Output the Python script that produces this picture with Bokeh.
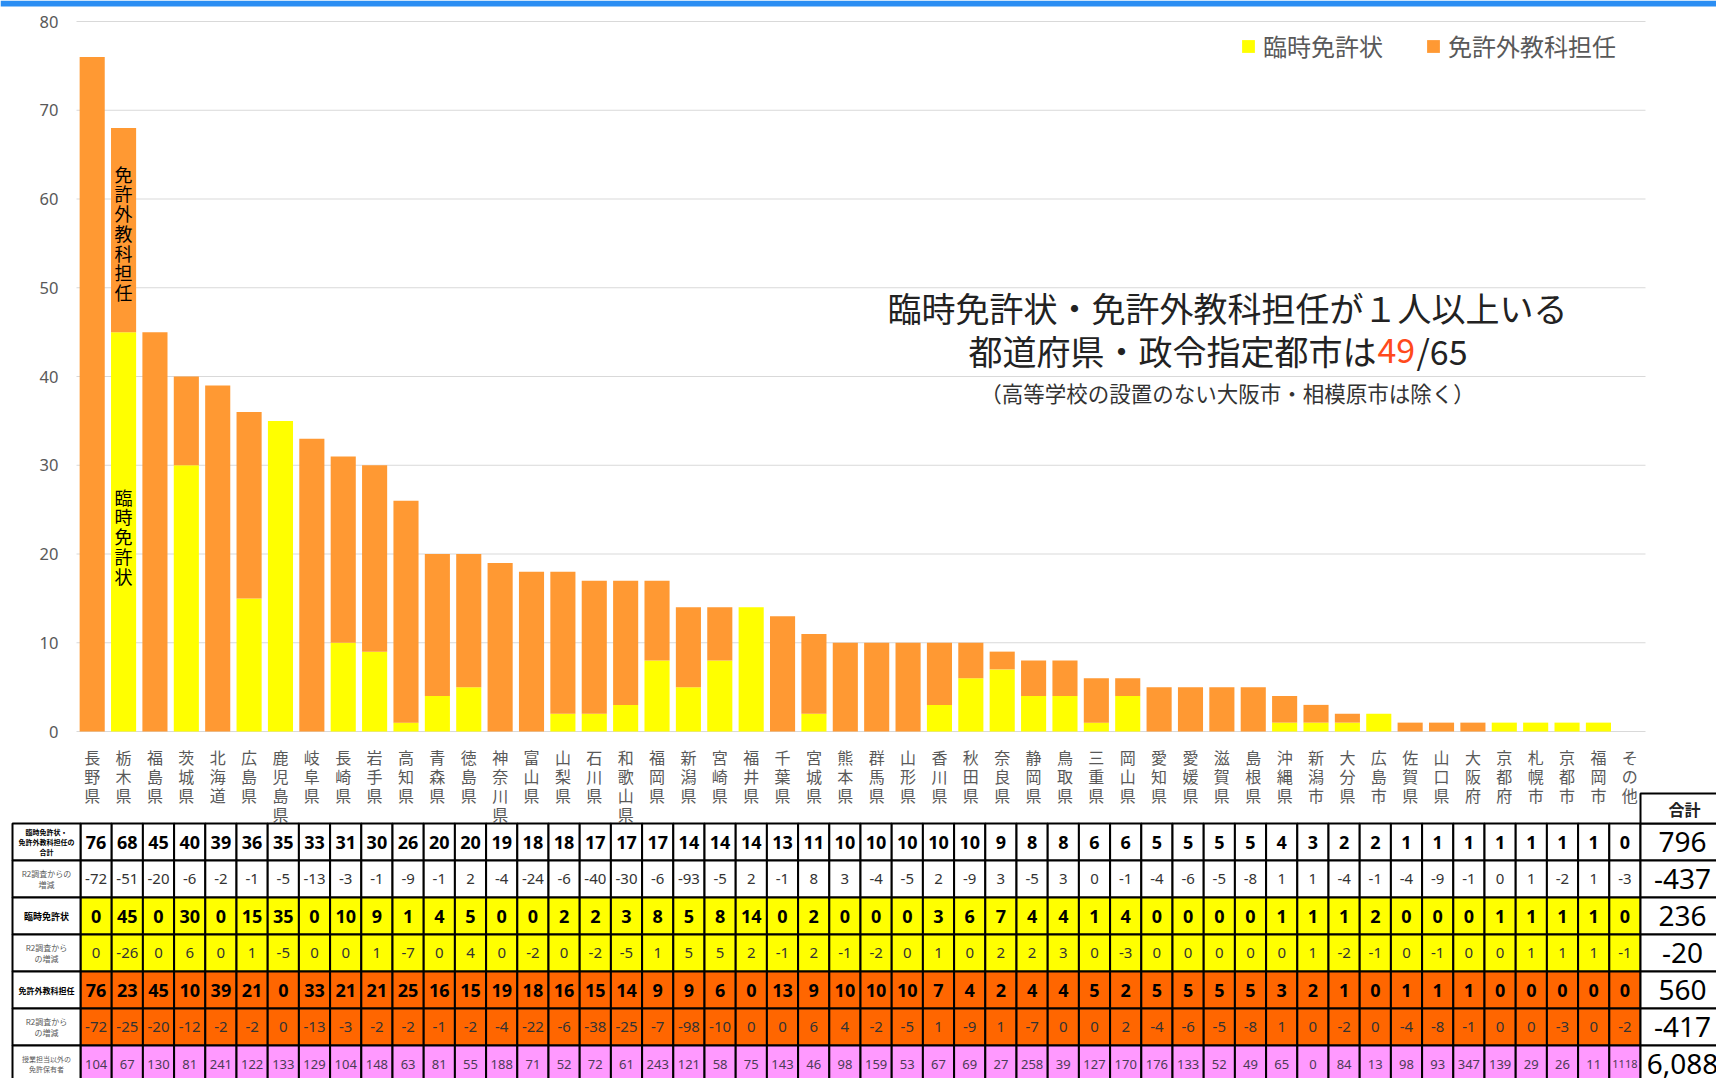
from bokeh.plotting import figure
from bokeh.models import (Range1d, Legend, LegendItem, Label, ColumnDataSource, BoxAnnotation)
from bokeh.embed import file_html
from bokeh.resources import INLINE
from bokeh.core.properties import value

# ---------------- data ----------------
categories = ["長野県", "栃木県", "福島県", "茨城県", "北海道", "広島県", "鹿児島県", "岐阜県",
              "長崎県", "岩手県", "高知県", "青森県", "徳島県", "神奈川県", "富山県", "山梨県",
              "石川県", "和歌山県", "福岡県", "新潟県", "宮崎県", "福井県", "千葉県", "宮城県",
              "熊本県", "群馬県", "山形県", "香川県", "秋田県", "奈良県", "静岡県", "鳥取県",
              "三重県", "岡山県", "愛知県", "愛媛県", "滋賀県", "島根県", "沖縄県", "新潟市",
              "大分県", "広島市", "佐賀県", "山口県", "大阪府", "京都府", "札幌市", "京都市",
              "福岡市", "その他"]
total = [76, 68, 45, 40, 39, 36, 35, 33, 31, 30, 26, 20, 20, 19, 18, 18, 17, 17, 17, 14,
         14, 14, 13, 11, 10, 10, 10, 10, 10, 9, 8, 8, 6, 6, 5, 5, 5, 5, 4, 3,
         2, 2, 1, 1, 1, 1, 1, 1, 1, 0]
total_diff = [-72, -51, -20, -6, -2, -1, -5, -13, -3, -1, -9, -1, 2, -4, -24, -6, -40, -30, -6, -93,
              -5, 2, -1, 8, 3, -4, -5, 2, -9, 3, -5, 3, 0, -1, -4, -6, -5, -8, 1, 1,
              -4, -1, -4, -9, -1, 0, 1, -2, 1, -3]
rinji = [0, 45, 0, 30, 0, 15, 35, 0, 10, 9, 1, 4, 5, 0, 0, 2, 2, 3, 8, 5,
         8, 14, 0, 2, 0, 0, 0, 3, 6, 7, 4, 4, 1, 4, 0, 0, 0, 0, 1, 1,
         1, 2, 0, 0, 0, 1, 1, 1, 1, 0]
rinji_diff = [0, -26, 0, 6, 0, 1, -5, 0, 0, 1, -7, 0, 4, 0, -2, 0, -2, -5, 1, 5,
              5, 2, -1, 2, -1, -2, 0, 1, 0, 2, 2, 3, 0, -3, 0, 0, 0, 0, 0, 1,
              -2, -1, 0, -1, 0, 0, 1, 1, 1, -1]
menkyogai = [76, 23, 45, 10, 39, 21, 0, 33, 21, 21, 25, 16, 15, 19, 18, 16, 15, 14, 9, 9,
             6, 0, 13, 9, 10, 10, 10, 7, 4, 2, 4, 4, 5, 2, 5, 5, 5, 5, 3, 2,
             1, 0, 1, 1, 1, 0, 0, 0, 0, 0]
menkyogai_diff = [-72, -25, -20, -12, -2, -2, 0, -13, -3, -2, -2, -1, -2, -4, -22, -6, -38, -25, -7, -98,
                  -10, 0, 0, 6, 4, -2, -5, 1, -9, 1, -7, 0, 0, 2, -4, -6, -5, -8, 1, 0,
                  -2, 0, -4, -8, -1, 0, 0, -3, 0, -2]
other_holders = [104, 67, 130, 81, 241, 122, 133, 129, 104, 148, 63, 81, 55, 188, 71, 52, 72, 61, 243, 121,
                 58, 75, 143, 46, 98, 159, 53, 67, 69, 27, 258, 39, 127, 170, 176, 133, 52, 49, 65, 0,
                 84, 13, 98, 93, 347, 139, 29, 26, 11, 1118]
sum_values = ["796", "-437", "236", "-20", "560", "-417", "6,088"]
row_labels = ["臨時免許状・\n免許外教科担任の\n合計", "R2調査からの\n増減", "臨時免許状",
              "R2調査から\nの増減", "免許外教科担任", "R2調査から\nの増減", "授業担当以外の\n免許保有者"]
series_names = ["臨時免許状", "免許外教科担任"]
y_ticks = [0, 10, 20, 30, 40, 50, 60, 70, 80]
sum_header = "合計"
title_line1 = "臨時免許状・免許外教科担任が１人以上いる"
title_line2a = "都道府県・政令指定都市は"
title_line2b = "49"
title_line2c = "/65"
title_line3 = "（高等学校の設置のない大阪市・相模原市は除く）"

# ---------------- styles / layout helpers ----------------
JP = "Noto Sans CJK JP"
NUM = "Noto Sans"
YELLOW = "#FFFF00"
ORANGE_BAR = "#FF9933"
ORANGE_ROW = "#FF6600"
PINK = "#FF99FF"
GRAY = "#595959"

W, H = 1716, 1078
LEFT, TOP = 0, 0                 # page offset of the canvas
RIGHT, BOTTOM = LEFT + W, TOP + H
n = len(categories)
BAR_L, BAR_R = 76, 1645          # chart category band (page px)
BAR_STEP = (BAR_R - BAR_L) / n
Y0_PX, Y80_PX = 731, 21          # value axis (page px)
VAL_STEP = (Y0_PX - Y80_PX) / 80
COL_L, COL_STEP = 80, 31.2       # table columns (page px)
ROW_T, ROW_STEP = 823, 37        # table rows (page px)


def tx(px): return (px - COL_L) / COL_STEP
def ty(py): return (py - ROW_T) / ROW_STEP
def bx(px): return (px - BAR_L) / BAR_STEP
def vy(py): return (Y0_PX - py) / VAL_STEP


p = figure(width=W, height=H,
           x_range=Range1d(tx(LEFT), tx(RIGHT)), y_range=Range1d(ty(BOTTOM), ty(TOP)),
           x_axis_location=None, y_axis_location=None,
           output_backend="svg", toolbar_location=None,
           min_border_left=0, min_border_right=0, min_border_top=0, min_border_bottom=0,
           outline_line_color=None)
p.grid.visible = False
p.extra_x_ranges = {"bars": Range1d(bx(LEFT), bx(RIGHT))}
p.extra_y_ranges = {"vals": Range1d(vy(BOTTOM), vy(TOP))}

# top blue band
p.add_layout(BoxAnnotation(bottom=vy(TOP + 6), y_range_name="vals", fill_color="#2B8EF3",
                           fill_alpha=1, line_color=None))

# ---------------- bar chart ----------------
grid_src = ColumnDataSource(dict(x0=[0] * len(y_ticks), x1=[n] * len(y_ticks), y=y_ticks,
                                 xl=[bx(58)] * len(y_ticks), t=[str(v) for v in y_ticks]))
p.segment(x0="x0", x1="x1", y0="y", y1="y", source=grid_src, line_color="#D9D9D9", line_width=1,
          x_range_name="bars", y_range_name="vals")
p.text(x="xl", y="y", text="t", source=grid_src, text_align="right", text_baseline="middle",
       text_font=value(NUM), text_font_size="16.5px", text_color=GRAY,
       x_range_name="bars", y_range_name="vals")

idx = [i + 0.5 for i in range(n)]
src = ColumnDataSource(dict(x=idx, rinji=rinji, menkyogai=menkyogai))
rs = p.vbar_stack(["rinji", "menkyogai"], x="x", width=0.8, source=src,
                  fill_color=[YELLOW, ORANGE_BAR], line_color=[None, None],
                  x_range_name="bars", y_range_name="vals")

legend = Legend(items=[LegendItem(label=series_names[0], renderers=[rs[0]]),
                       LegendItem(label=series_names[1], renderers=[rs[1]])],
                orientation="horizontal", location=(1240 - LEFT, BOTTOM - 63),
                glyph_width=16, glyph_height=16, label_standoff=7, spacing=42,
                padding=0, margin=0, border_line_color=None, background_fill_alpha=0,
                label_text_font=JP, label_text_font_size="24px", label_text_color=GRAY,
                label_height=24)
p.add_layout(legend, "center")

# vertical notes in the 栃木県 bar
note_src = ColumnDataSource(dict(x=[idx[1], idx[1]], y=[vy(160), vy(483)],
                                 text=["\n".join(series_names[1]), "\n".join(series_names[0])]))
p.text(x="x", y="y", text="text", source=note_src, text_align="center", text_baseline="top",
       text_font=value(JP), text_font_size="18px", text_color="black", text_line_height=0.76,
       x_range_name="bars", y_range_name="vals")

# title annotation
cx = bx(1227)
p.add_layout(Label(x=cx, y=vy(307), text=title_line1, text_align="center", text_baseline="middle",
                   text_font=JP, text_font_size="34px", text_color="#222222",
                   x_range_name="bars", y_range_name="vals"))
p.add_layout(Label(x=bx(1376), y=vy(350), text=title_line2a, text_align="right", text_baseline="middle",
                   text_font=JP, text_font_size="34px", text_color="#222222",
                   x_range_name="bars", y_range_name="vals"))
p.add_layout(Label(x=bx(1377), y=vy(350), text=title_line2b, text_align="left", text_baseline="middle",
                   text_font=JP, text_font_size="34px", text_color="#FF4A1C",
                   x_range_name="bars", y_range_name="vals"))
p.add_layout(Label(x=bx(1416), y=vy(350), text=title_line2c, text_align="left", text_baseline="middle",
                   text_font=JP, text_font_size="34px", text_color="#222222",
                   x_range_name="bars", y_range_name="vals"))
p.add_layout(Label(x=cx, y=vy(392), text=title_line3, text_align="center", text_baseline="middle",
                   text_font=JP, text_font_size="21.5px", text_color="#333333",
                   x_range_name="bars", y_range_name="vals"))

# category labels (vertical, under the bars)
lab_src = ColumnDataSource(dict(x=idx, y=[vy(744)] * n, text=["\n".join(c) for c in categories]))
p.text(x="x", y="y", text="text", source=lab_src, text_align="center", text_baseline="top",
       text_font=value(JP), text_font_size="16px", text_color=GRAY, text_line_height=0.8,
       x_range_name="bars", y_range_name="vals")

# ---------------- table ----------------
tidx = [i + 0.5 for i in range(n)]
rows = [total, total_diff, rinji, rinji_diff, menkyogai, menkyogai_diff, other_holders]
row_fill = ["white", "white", YELLOW, YELLOW, ORANGE_ROW, ORANGE_ROW, PINK]
row_style = ["big", "small", "big", "small", "big", "small", "tiny"]

for r, vals in enumerate(rows):
    texts = [str(v) for v in vals]
    cs = ColumnDataSource(dict(x=tidx, y=[r + 0.5] * n, t=texts,
                               fs=["11px" if len(s) > 3 else "13px" for s in texts]))
    p.rect(x="x", y="y", width=1, height=1, source=cs, fill_color=row_fill[r],
           line_color="black", line_width=2)
    if row_style[r] == "big":
        p.text(x="x", y="y", text="t", source=cs, text_align="center", text_baseline="middle",
               text_font=value(NUM), text_font_size="18px", text_font_style="bold", text_color="black")
    elif row_style[r] == "small":
        p.text(x="x", y="y", text="t", source=cs, text_align="center", text_baseline="middle",
               text_font=value(NUM), text_font_size="15px", text_color="#333333")
    else:
        p.text(x="x", y="y", text="t", source=cs, text_align="center", text_baseline="middle",
               text_font=value(NUM), text_font_size="fs", text_color="#4B3B55")

nr = len(rows)
lbl_src = ColumnDataSource(dict(x=[tx(46)] * nr, y=[r + 0.5 for r in range(nr)], t=row_labels,
                                fs=["7px", "8px", "9px", "8px", "8px", "8px", "7px"],
                                st=["bold", "normal", "bold", "normal", "bold", "normal", "normal"],
                                tc=["black", GRAY, "black", GRAY, "black", GRAY, GRAY]))
p.rect(x="x", y="y", width=tx(80) - tx(12), height=1, source=lbl_src, fill_color="white",
       line_color="black", line_width=2)
p.text(x="x", y="y", text="t", source=lbl_src, text_align="center", text_baseline="middle",
       text_font=value(JP), text_font_size="fs", text_font_style="st", text_color="tc",
       text_line_height=1.0)

sx = (n + tx(1730)) / 2
sw = tx(1730) - n
sum_src = ColumnDataSource(dict(x=[sx] * nr, y=[r + 0.5 for r in range(nr)], t=sum_values,
                                tx=[tx(1682)] * nr))
p.rect(x="x", y="y", width=sw, height=1, source=sum_src, fill_color="white",
       line_color="black", line_width=2)
p.text(x="tx", y="y", text="t", source=sum_src, text_align="center", text_baseline="middle",
       text_font=value(NUM), text_font_size="28px", text_color="black")
hdr_src = ColumnDataSource(dict(x=[sx], y=[ty(808)], t=[sum_header], tx=[tx(1684)]))
p.rect(x="x", y="y", width=sw, height=ty(823) - ty(793), source=hdr_src, fill_color="white",
       line_color="black", line_width=2)
p.text(x="tx", y="y", text="t", source=hdr_src, text_align="center", text_baseline="middle",
       text_font=value(JP), text_font_size="16px", text_font_style="bold", text_color="#222222")

open("out.html", "w").write(file_html(p, INLINE))
